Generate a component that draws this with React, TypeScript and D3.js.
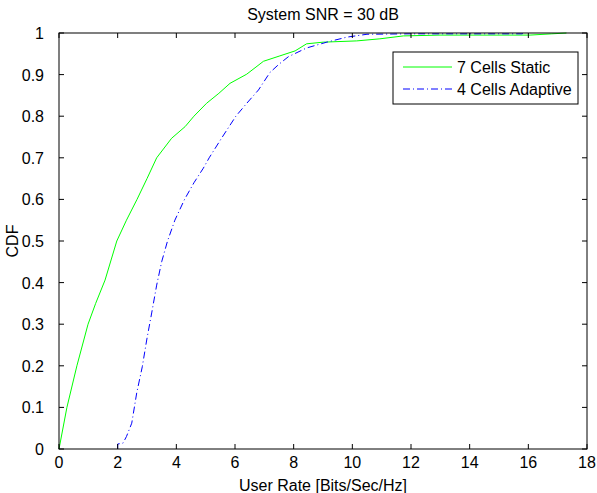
import React, { useEffect, useRef } from "react";
import * as d3 from "d3";

// CDF curves: x = user rate, y = CDF
const staticX = [0, 0.27, 0.61, 0.99, 1.25, 1.57, 1.97, 2.3, 2.66, 3.0, 3.33, 3.84, 4.3, 4.6, 5.03, 5.45, 5.83, 6.4, 6.97, 7.53, 8.05, 8.44, 9.01, 10.15, 10.94, 11.74, 12.99, 16.06, 16.8, 17.3];
const staticY = [0, 0.1, 0.2, 0.3, 0.35, 0.406, 0.5, 0.55, 0.6, 0.65, 0.7, 0.747, 0.775, 0.8, 0.831, 0.855, 0.879, 0.901, 0.932, 0.945, 0.957, 0.974, 0.978, 0.981, 0.986, 0.993, 0.995, 0.995, 0.998, 1.0];

const adaptiveX = [2.0, 2.0, 2.18, 2.3, 2.48, 2.65, 2.84, 2.99, 3.16, 3.33, 3.5, 3.7, 3.95, 4.28, 4.6, 4.92, 5.12, 5.54, 6.03, 6.4, 6.8, 7.19, 7.5, 7.82, 8.44, 9.13, 9.81, 10.5, 12.0, 15.8, 15.8];
const adaptiveY = [0, 0.012, 0.014, 0.03, 0.062, 0.135, 0.198, 0.262, 0.327, 0.394, 0.45, 0.5, 0.55, 0.6, 0.64, 0.675, 0.7, 0.747, 0.8, 0.831, 0.863, 0.905, 0.925, 0.943, 0.964, 0.978, 0.99, 0.997, 0.998, 0.998, 1.0];

const xTicks = [0, 2, 4, 6, 8, 10, 12, 14, 16, 18];
const yTicks = [0, 0.1, 0.2, 0.3, 0.4, 0.5, 0.6, 0.7, 0.8, 0.9, 1];

const seriesNames = ["7 Cells Static", "4 Cells Adaptive"];

export default function App() {
  const ref = useRef<SVGSVGElement>(null);

  useEffect(() => {
    const svg = d3.select(ref.current);
    svg.selectAll("*").remove();

    const left = 59, right = 587, top = 33, bottom = 449;
    const x = d3.scaleLinear().domain([0, 18]).range([left, right]);
    const y = d3.scaleLinear().domain([0, 1]).range([bottom, top]);
    const font = "Liberation Sans, Arial, Helvetica, sans-serif";
    const fs = "16px";

    svg.append("rect").attr("x", 0).attr("y", 0).attr("width", 597).attr("height", 493).attr("fill", "#fff");

    const line = d3.line<[number, number]>().x(d => x(d[0])).y(d => y(d[1]));
    const staticPts = staticX.map((v, i) => [v, staticY[i]] as [number, number]);
    const adaptivePts = adaptiveX.map((v, i) => [v, adaptiveY[i]] as [number, number]);

    svg.append("path").attr("d", line(staticPts)).attr("fill", "none")
      .attr("stroke", "#00ff00").attr("stroke-width", 1);
    svg.append("path").attr("d", line(adaptivePts)).attr("fill", "none")
      .attr("stroke", "#0000ff").attr("stroke-width", 1).attr("stroke-dasharray", "7,3,1,3");

    // box
    svg.append("rect").attr("x", left).attr("y", top).attr("width", right - left).attr("height", bottom - top)
      .attr("fill", "none").attr("stroke", "#000").attr("stroke-width", 1);

    // ticks on all sides, pointing in
    const tl = 5;
    const g = svg.append("g").attr("stroke", "#000").attr("stroke-width", 1);
    xTicks.forEach(t => {
      g.append("line").attr("x1", x(t)).attr("x2", x(t)).attr("y1", bottom).attr("y2", bottom - tl);
      g.append("line").attr("x1", x(t)).attr("x2", x(t)).attr("y1", top).attr("y2", top + tl);
    });
    yTicks.forEach(t => {
      g.append("line").attr("x1", left).attr("x2", left + tl).attr("y1", y(t)).attr("y2", y(t));
      g.append("line").attr("x1", right).attr("x2", right - tl).attr("y1", y(t)).attr("y2", y(t));
    });

    svg.selectAll(".xl").data(xTicks).join("text").attr("class", "xl")
      .attr("x", d => x(d)).attr("y", bottom + 19).attr("text-anchor", "middle")
      .style("font-family", font).style("font-size", fs).text(d => String(d));
    svg.selectAll(".yl").data(yTicks).join("text").attr("class", "yl")
      .attr("x", left - 15).attr("y", d => y(d) + 6).attr("text-anchor", "end")
      .style("font-family", font).style("font-size", fs).text(d => String(d));

    // labels
    svg.append("text").attr("x", (left + right) / 2).attr("y", 20).attr("text-anchor", "middle")
      .style("font-family", font).style("font-size", fs).text("System SNR = 30 dB");
    svg.append("text").attr("x", (left + right) / 2).attr("y", 491).attr("text-anchor", "middle")
      .style("font-family", font).style("font-size", fs).text("User Rate [Bits/Sec/Hz]");
    svg.append("text").attr("transform", `translate(18,${(top + bottom) / 2}) rotate(-90)`).attr("text-anchor", "middle")
      .style("font-family", font).style("font-size", fs).text("CDF");

    // legend
    const lg = svg.append("g");
    lg.append("rect").attr("x", 393).attr("y", 52).attr("width", 185).attr("height", 52)
      .attr("fill", "#fff").attr("stroke", "#000").attr("stroke-width", 1);
    const colors = ["#00ff00", "#0000ff"];
    const dashes = [null, "7,3,1,3"];
    seriesNames.forEach((name, i) => {
      const cy = 67 + i * 22;
      lg.append("line").attr("x1", 403).attr("x2", 452).attr("y1", cy).attr("y2", cy)
        .attr("stroke", colors[i]).attr("stroke-width", 1).attr("stroke-dasharray", dashes[i]);
      lg.append("text").attr("x", 457).attr("y", cy + 6)
        .style("font-family", font).style("font-size", fs).text(name);
    });
  }, []);

  return (
    <div style={{ position: "absolute", left: 0, top: 0 }}>
      <svg ref={ref} width={597} height={493} style={{ display: "block" }} />
    </div>
  );
}
